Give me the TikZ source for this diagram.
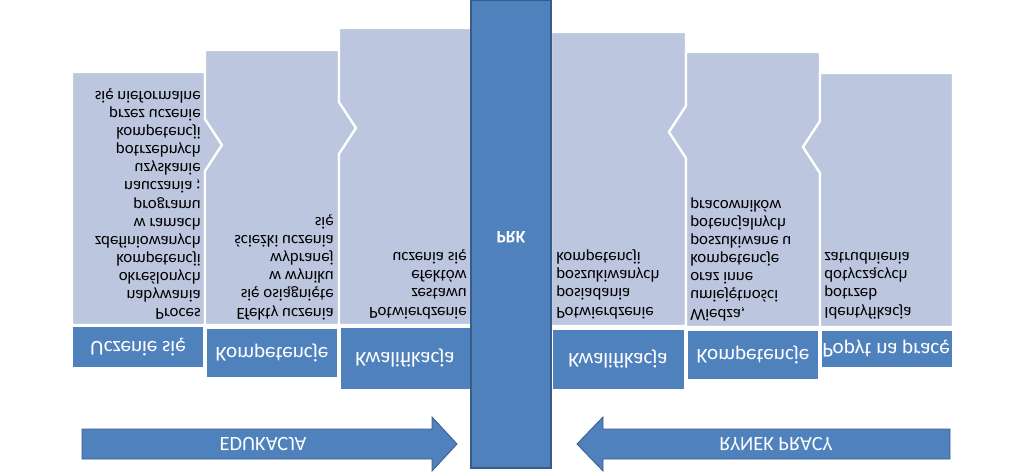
\documentclass[tikz,border=0pt]{standalone}
\usepackage{fontspec}
\setmainfont{Carlito}
\usetikzlibrary{positioning}
\definecolor{prkblue}{RGB}{79,129,189}
\definecolor{prkedge}{RGB}{56,93,138}
\definecolor{paleblue}{RGB}{188,199,223}

\begin{document}
\begin{tikzpicture}[x=0.25mm, y=0.25mm, yscale=-1,
    every node/.style={transform shape},
    chevron/.style={fill=paleblue, draw=white, line width=1.6pt, line join=miter},
    labelbox/.style={fill=prkblue, draw=white, line width=1.6pt},
    labeltext/.style={text=white, inner sep=0pt, font=\fontsize{15}{17}\selectfont},
    lefttext/.style={align=right, anchor=north east, inner sep=0pt, font=\fontsize{12}{12.9}\selectfont},
    righttext/.style={align=left, anchor=north west, inner sep=0pt, font=\fontsize{12}{12.9}\selectfont},
    bigarrow/.style={fill=prkblue, draw=prkedge, line width=0.6pt},
    arrowtext/.style={text=white, inner sep=0pt, font=\fontsize{14.5}{16}\selectfont}
]
\useasboundingbox (0,0) rectangle (1024,472);

% edukacja side
\draw[chevron] (72,72) -- (205,72) -- (205,119) -- (222,145) -- (205,171) -- (205,325) -- (72,325) -- cycle;
\draw[chevron] (205,50) -- (339,50) -- (339,102) -- (356,128) -- (339,154) -- (339,325) -- (205,325) -- (205,171) -- (222,145) -- (205,119) -- cycle;
\draw[chevron] (339,28) -- (472,28) -- (472,325) -- (339,325) -- (339,154) -- (356,128) -- (339,102) -- cycle;
\draw[labelbox] (72,326) rectangle (204,368);
\draw[labelbox] (206,328) rectangle (338,378);
\draw[labelbox] (340,327) rectangle (471,390);
\node[labeltext] (uczenie) at (138,347) {Uczenie się};
\node[labeltext] (kompL) at (272,353) {Kompetencje};
\node[labeltext] (kwalL) at (405,358) {Kwalifikacja};
\node[lefttext] (proces) at (201,320) {Proces\\nabywania\\określonych\\kompetencji\\zdefiniowanych\\w ramach\\programu\\nauczania ;\\uzyskanie\\potrzebnych\\kompetencji\\przez uczenie\\się nieformalne};
\node[lefttext] (efekty) at (334,320) {Efekty uczenia\\się osiągnięte\\w wyniku\\wybranej\\ścieżki uczenia\\się};
\node[lefttext] (zestaw) at (467,319) {Potwierdzenie\\zestawu\\efektów\\uczenia się};

% rynek pracy side
\draw[chevron] (551,32) -- (686,32) -- (686,106) -- (669,132) -- (686,158) -- (686,326) -- (551,326) -- cycle;
\draw[chevron] (686,52) -- (820,52) -- (820,121) -- (803,147) -- (820,173) -- (820,327) -- (686,327) -- (686,158) -- (669,132) -- (686,106) -- cycle;
\draw[chevron] (820,73) -- (953,73) -- (953,327) -- (820,327) -- (820,173) -- (803,147) -- (820,121) -- cycle;
\draw[labelbox] (552,329) rectangle (685,390);
\draw[labelbox] (687,330) rectangle (819,380);
\draw[labelbox] (821,330) rectangle (953,368);
\node[labeltext] (kwalR) at (618,359) {Kwalifikacja};
\node[labeltext] (kompR) at (753,355) {Kompetencje};
\node[labeltext] (popyt) at (886,349) {Popyt na pracę};
\node[righttext] (posiad) at (556,319) {Potwierdzenie\\posiadania\\poszukiwanych\\kompetencji};
\node[righttext] (wiedza) at (690,321) {Wiedza,\\umiejętności\\oraz inne\\kompetencje\\poszukiwane u\\potencjalnych\\pracowników};
\node[righttext] (ident) at (824,319) {Identyfikacja\\potrzeb\\dotyczących\\zatrudnienia};

% PRK bar
\draw[fill=prkblue, draw=prkedge, line width=0.8pt] (471,0) rectangle (551,468);
\node[text=white, font=\fontsize{12.5}{14}\selectfont\bfseries] (prk) at (511,237) {PRK};

% arrows
\draw[bigarrow] (82,429) -- (432,429) -- (432,417) -- (457,444) -- (432,471) -- (432,459) -- (82,459) -- cycle;
\draw[bigarrow] (950,429) -- (603,429) -- (603,417) -- (577,444) -- (603,471) -- (603,459) -- (950,459) -- cycle;
\node[arrowtext] (edu) at (263,444) {EDUKACJA};
\node[arrowtext] (rynek) at (776,444) {RYNEK PRACY};
\end{tikzpicture}
\end{document}
